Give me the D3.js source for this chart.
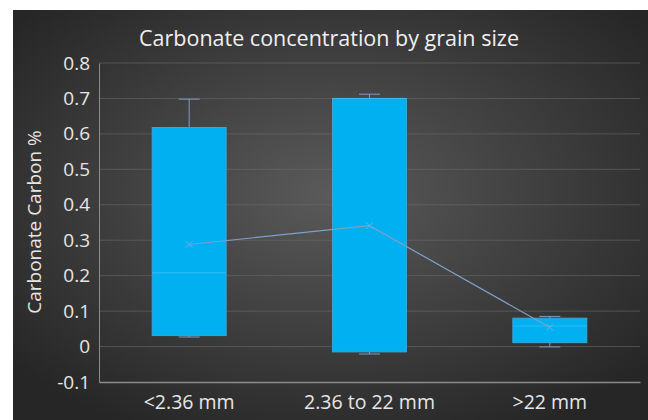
<!DOCTYPE html>
<html><head><meta charset="utf-8">
<script src="https://cdn.jsdelivr.net/npm/d3@7"></script>
<style>html,body{margin:0;padding:0;background:#fff;}svg{display:block;}text{font-family:'Open Sans',sans-serif;}</style>
</head><body><svg id="c" width="648" height="420"></svg>
<script>
const categories = ["<2.36 mm", "2.36 to 22 mm", ">22 mm"];
const whiskerLow = [0.027, -0.021, -0.001];
const q1 = [0.031, -0.015, 0.011];
const median = [0.208, 0.700, 0.058];
const q3 = [0.618, 0.700, 0.080];
const whiskerHigh = [0.698, 0.712, 0.085];
const mean = [0.288, 0.341, 0.054];
const yTicks = [-0.1, 0, 0.1, 0.2, 0.3, 0.4, 0.5, 0.6, 0.7, 0.8];
const title = "Carbonate concentration by grain size";
const yTitle = "Carbonate Carbon %";

const svg = d3.select("#c");
const defs = svg.append("defs");
const rg = defs.append("radialGradient").attr("id","bg").attr("cx","50%").attr("cy","45%").attr("r","65%");
rg.append("stop").attr("offset","0%").attr("stop-color","#5a5a5a");
rg.append("stop").attr("offset","100%").attr("stop-color","#262626");
svg.append("rect").attr("x",13).attr("y",10).attr("width",635).attr("height",410).attr("fill","url(#bg)");

const pLeft = 99, pRight = 640, pTop = 63, pBottom = 382;
const x = d3.scaleBand().domain(categories).range([pLeft, pRight]).paddingInner(0.59).paddingOuter(0.295);
const y = d3.scaleLinear().domain([-0.1, 0.8]).range([pBottom, pTop]);

// gridlines
svg.append("g").selectAll("line").data(yTicks.filter(t => t > -0.1)).join("line")
  .attr("x1", pLeft).attr("x2", pRight).attr("y1", d => y(d)).attr("y2", d => y(d))
  .attr("stroke", "#6a6a6a").attr("stroke-width", 1).attr("opacity", 0.6);

// y axis
const yAxis = d3.axisLeft(y).tickValues(yTicks).tickFormat(d => String(+d.toFixed(1))).tickSize(0).tickPadding(9);
const gy = svg.append("g").attr("transform", `translate(${pLeft},0)`).call(yAxis);
gy.select(".domain").attr("stroke", "#8c8c8c");
gy.selectAll("text").attr("fill", "#e6e6e6").style("font-size", "19px").attr("font-family","'Open Sans',sans-serif");

// x axis
const xAxis = d3.axisBottom(x).tickSize(0).tickPadding(13);
const gx = svg.append("g").attr("transform", `translate(0,${pBottom})`).call(xAxis);
gx.select(".domain").attr("stroke", "#8c8c8c").attr("stroke-width", 1.3);
gx.selectAll("text").attr("fill", "#e6e6e6").style("font-size", "19.5px").attr("font-family","'Open Sans',sans-serif");

const idx = categories.map((c, i) => i);
const cx = i => x(categories[i]) + x.bandwidth() / 2;
const capW = 21;
const wColor = "#7f9cc0";

const g = svg.append("g");
// whiskers
idx.forEach(i => {
  g.append("line").attr("x1", cx(i)).attr("x2", cx(i)).attr("y1", y(q3[i])).attr("y2", y(whiskerHigh[i])).attr("stroke", wColor);
  g.append("line").attr("x1", cx(i) - capW/2).attr("x2", cx(i) + capW/2).attr("y1", y(whiskerHigh[i])).attr("y2", y(whiskerHigh[i])).attr("stroke", wColor);
  g.append("line").attr("x1", cx(i)).attr("x2", cx(i)).attr("y1", y(q1[i])).attr("y2", y(whiskerLow[i])).attr("stroke", wColor);
  g.append("line").attr("x1", cx(i) - capW/2).attr("x2", cx(i) + capW/2).attr("y1", y(whiskerLow[i])).attr("y2", y(whiskerLow[i])).attr("stroke", wColor);
});
// boxes
g.selectAll("rect.box").data(idx).join("rect").attr("class","box")
  .attr("x", i => x(categories[i])).attr("width", x.bandwidth())
  .attr("y", i => y(q3[i])).attr("height", i => y(q1[i]) - y(q3[i]))
  .attr("fill", "#00b0f0").attr("stroke", "#3aa6d8").attr("stroke-width", 1);
// medians
g.selectAll("line.med").data(idx).join("line").attr("class","med")
  .attr("x1", i => x(categories[i])).attr("x2", i => x(categories[i]) + x.bandwidth())
  .attr("y1", i => y(median[i])).attr("y2", i => y(median[i]))
  .attr("stroke", "#33bcf2").attr("stroke-width", 1);
// mean line
const line = d3.line().x(i => cx(i)).y(i => y(mean[i]));
g.append("path").datum(idx).attr("d", line).attr("fill", "none").attr("stroke", "#7fa0c8").attr("stroke-width", 1.2);
// mean markers
g.selectAll("path.mk").data(idx).join("path").attr("class","mk")
  .attr("d", d3.symbol(d3.symbolX, 30)())
  .attr("transform", i => `translate(${cx(i)},${y(mean[i])})`)
  .attr("stroke", "#5fb8e6").attr("stroke-width", 1).attr("fill", "none");

// title
svg.append("text").attr("x", 329).attr("y", 46).attr("text-anchor", "middle")
  .attr("fill", "#f0f0f0").style("font-size", "21.5px").text(title);
// y title
svg.append("text").attr("transform", `translate(41,222) rotate(-90)`).attr("text-anchor", "middle")
  .attr("fill", "#e6e6e6").style("font-size", "19px").text(yTitle);
</script></body></html>
